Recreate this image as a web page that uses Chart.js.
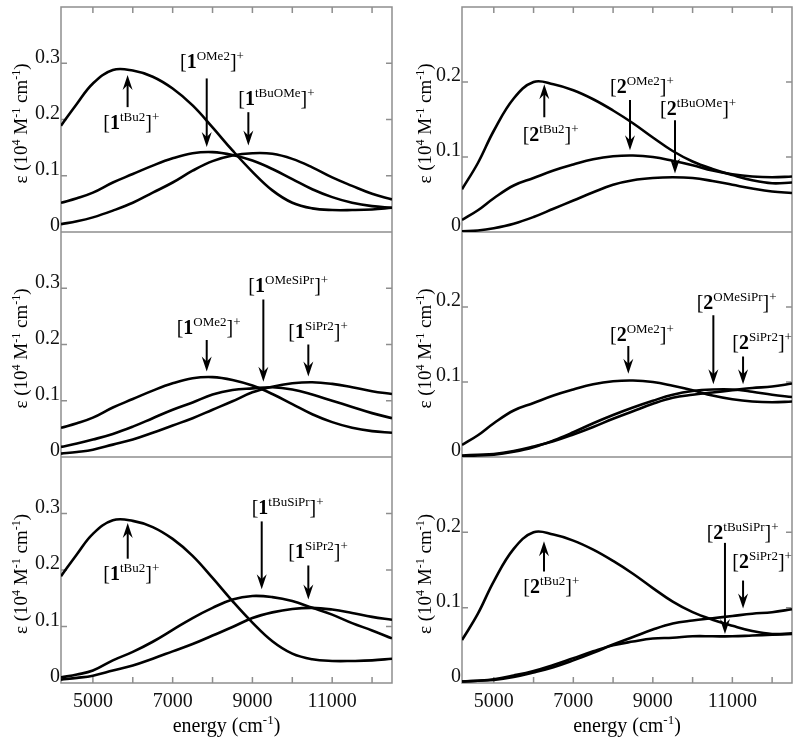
<!DOCTYPE html>
<html>
<head>
<meta charset="utf-8">
<script src="https://cdn.jsdelivr.net/npm/chart.js@4.4.0/dist/chart.umd.min.js"></script>
<style>
  html, body { margin: 0; padding: 0; background: #fff; }
  #wrap { position: relative; width: 800px; height: 749px; background: #fff; overflow: hidden; }
  #wrap canvas { position: absolute; }
</style>
</head>
<body>
<div id="wrap"></div>
<script>
// energy grid (cm-1)
const energy = [4200, 4600, 5000, 5500, 6000, 6500, 7000, 7500, 8000, 8500, 9000, 9500, 10000, 10500, 11000, 11500, 12000, 12500];

// complexes [1]+  (epsilon, 10^4 M-1 cm-1)
const tBu2_1    = [0.189, 0.228, 0.264, 0.288, 0.287, 0.276, 0.255, 0.225, 0.186, 0.145, 0.107, 0.074, 0.052, 0.042, 0.039, 0.039, 0.040, 0.043];
const OMe2_1    = [0.052, 0.060, 0.070, 0.088, 0.103, 0.118, 0.131, 0.140, 0.142, 0.137, 0.127, 0.112, 0.094, 0.076, 0.062, 0.052, 0.046, 0.043];
const tBuOMe_1  = [0.014, 0.019, 0.026, 0.038, 0.052, 0.070, 0.088, 0.109, 0.126, 0.136, 0.140, 0.139, 0.130, 0.115, 0.097, 0.082, 0.068, 0.058];
const OMeSiPr_1 = [0.018, 0.024, 0.031, 0.041, 0.054, 0.069, 0.084, 0.097, 0.111, 0.119, 0.122, 0.124, 0.120, 0.111, 0.100, 0.089, 0.078, 0.069];
const SiPr2_1   = [0.006, 0.009, 0.013, 0.022, 0.031, 0.043, 0.056, 0.069, 0.084, 0.099, 0.115, 0.125, 0.131, 0.133, 0.130, 0.124, 0.117, 0.112];
const tBuSiPr_1 = [0.010, 0.015, 0.022, 0.040, 0.055, 0.073, 0.094, 0.115, 0.133, 0.148, 0.154, 0.152, 0.145, 0.133, 0.121, 0.106, 0.093, 0.079];

// complexes [2]+
const tBu2_2    = [0.057, 0.092, 0.135, 0.178, 0.200, 0.197, 0.189, 0.177, 0.162, 0.145, 0.126, 0.108, 0.094, 0.084, 0.076, 0.069, 0.065, 0.066];
const OMe2_2    = [0.016, 0.029, 0.045, 0.062, 0.072, 0.082, 0.090, 0.097, 0.101, 0.102, 0.100, 0.095, 0.089, 0.082, 0.077, 0.074, 0.073, 0.074];
const tBuOMe_2  = [0.001, 0.002, 0.005, 0.011, 0.020, 0.031, 0.042, 0.053, 0.063, 0.069, 0.072, 0.073, 0.072, 0.068, 0.063, 0.058, 0.054, 0.052];
const OMeSiPr_2 = [0.001, 0.002, 0.003, 0.007, 0.013, 0.022, 0.033, 0.045, 0.056, 0.066, 0.075, 0.083, 0.088, 0.090, 0.090, 0.087, 0.083, 0.080];
const SiPr2_2   = [0.002, 0.003, 0.004, 0.008, 0.014, 0.021, 0.030, 0.040, 0.051, 0.061, 0.071, 0.079, 0.083, 0.086, 0.089, 0.092, 0.094, 0.098];
const tBuSiPr_2 = [0.002, 0.003, 0.005, 0.010, 0.016, 0.024, 0.033, 0.042, 0.050, 0.055, 0.059, 0.060, 0.062, 0.062, 0.062, 0.063, 0.064, 0.065];

// ticks
const xTickLabels = [5000, 7000, 9000, 11000];
const xTickMarks = [5000, 6000, 7000, 8000, 9000, 10000, 11000, 12000];
const yTicks1 = [0, 0.1, 0.2, 0.3];
const yTicks2 = [0, 0.1, 0.2];

// labels + arrows, in data units: label left/baseline, arrow x, arrow tail -> tip
const notesTL = [
  { sup: 'tBu2',   lx: 5262, ly: 0.183, ax: 5870,  from: 0.222, to: 0.279 },
  { sup: 'OMe2',   lx: 7184, ly: 0.291, ax: 7854,  from: 0.273, to: 0.151 },
  { sup: 'tBuOMe', lx: 8647, ly: 0.226, ax: 8898,  from: 0.213, to: 0.154 }
];
const notesML = [
  { sup: 'OMe2',    lx: 7101, ly: 0.219, ax: 7854,  from: 0.208, to: 0.152 },
  { sup: 'OMeSiPr', lx: 8898, ly: 0.294, ax: 9274,  from: 0.280, to: 0.134 },
  { sup: 'SiPr2',   lx: 9900, ly: 0.211, ax: 10402, from: 0.200, to: 0.143 }
];
const notesBL = [
  { sup: 'tBu2',    lx: 5262, ly: 0.183, ax: 5873,  from: 0.220, to: 0.283 },
  { sup: 'tBuSiPr', lx: 8982, ly: 0.299, ax: 9233,  from: 0.286, to: 0.166 },
  { sup: 'SiPr2',   lx: 9900, ly: 0.221, ax: 10402, from: 0.208, to: 0.148 }
];
const notesTR = [
  { sup: 'tBu2',   lx: 5726, ly: 0.122, ax: 6270, from: 0.153, to: 0.197 },
  { sup: 'OMe2',   lx: 7922, ly: 0.185, ax: 8425, from: 0.176, to: 0.109 },
  { sup: 'tBuOMe', lx: 9180, ly: 0.156, ax: 9557, from: 0.149, to: 0.078 }
];
const notesMR = [
  { sup: 'OMe2',    lx: 7922,  ly: 0.155, ax: 8383,  from: 0.148, to: 0.111 },
  { sup: 'OMeSiPr', lx: 10103, ly: 0.197, ax: 10522, from: 0.189, to: 0.097 },
  { sup: 'SiPr2',   lx: 11000, ly: 0.144, ax: 11269, from: 0.134, to: 0.097 }
];
const notesBR = [
  { sup: 'tBu2',    lx: 5743,  ly: 0.120, ax: 6262,  from: 0.148, to: 0.188 },
  { sup: 'tBuSiPr', lx: 10354, ly: 0.191, ax: 10814, from: 0.186, to: 0.065 },
  { sup: 'SiPr2',   lx: 11000, ly: 0.152, ax: 11269, from: 0.136, to: 0.099 }
];

const FAM = '"Liberation Serif", "Times New Roman", serif';
const F_MAIN = '20px ' + FAM;
const F_BOLD = 'bold 20px ' + FAM;
const F_SUP = '13px ' + FAM;
const F_TITLE = '19px ' + FAM;
const F_TSUP = '12px ' + FAM;

const cols = [
  { left: 0,   plotLeft: 61,  plotRight: 392, yMax: 0.4, yTicks: yTicks1, num: '1', titleX: 27 },
  { left: 400, plotLeft: 462, plotRight: 792, yMax: 0.3, yTicks: yTicks2, num: '2', titleX: 31 }
];
const rows = [
  { top: 0,   height: 232, padTop: 7, xAxis: false, topTicks: true },
  { top: 232, height: 225, padTop: 0, xAxis: false },
  { top: 457, height: 292, padTop: 0, xAxis: true, axisH: 66 }
];
const panels = [
  { col: 0, row: 0, series: [tBu2_1, OMe2_1, tBuOMe_1], notes: notesTL },
  { col: 0, row: 1, series: [OMe2_1, OMeSiPr_1, SiPr2_1], notes: notesML },
  { col: 0, row: 2, series: [tBu2_1, tBuSiPr_1, SiPr2_1], notes: notesBL },
  { col: 1, row: 0, series: [tBu2_2, OMe2_2, tBuOMe_2], notes: notesTR },
  { col: 1, row: 1, series: [OMe2_2, OMeSiPr_2, SiPr2_2], notes: notesMR },
  { col: 1, row: 2, series: [tBu2_2, tBuSiPr_2, SiPr2_2], notes: notesBR }
];

function runWidth(ctx, parts) {
  let w = 0;
  parts.forEach(p => { ctx.font = p.f; w += ctx.measureText(p.t).width; });
  return w;
}
function drawRun(ctx, parts, x, y) {
  let cx = x;
  parts.forEach(p => {
    ctx.font = p.f;
    ctx.fillText(p.t, cx, y + (p.dy || 0));
    cx += ctx.measureText(p.t).width;
  });
}

function drawArrow(ctx, x, y0, y1) {
  const d = Math.sign(y1 - y0);
  ctx.lineWidth = 2;
  ctx.beginPath();
  ctx.moveTo(x, y0);
  ctx.lineTo(x, y1 - d * 8);
  ctx.stroke();
  ctx.beginPath();
  ctx.moveTo(x, y1);
  ctx.lineTo(x - 5, y1 - d * 15);
  ctx.lineTo(x, y1 - d * 10);
  ctx.lineTo(x + 5, y1 - d * 15);
  ctx.closePath();
  ctx.fill();
}

function makeDecor(p, c, r) {
  return {
    id: 'decor',
    beforeDatasetsDraw(chart) {
      const { ctx, chartArea: a, scales: { x, y } } = chart;
      ctx.save();
      ctx.strokeStyle = '#8e8e8e';
      ctx.lineWidth = 1.5;
      ctx.strokeRect(a.left, a.top, a.right - a.left, a.bottom - a.top);
      ctx.beginPath();
      c.yTicks.forEach(v => {
        if (v <= 0) return;
        const py = y.getPixelForValue(v);
        ctx.moveTo(a.left, py); ctx.lineTo(a.left + 6, py);
        ctx.moveTo(a.right, py); ctx.lineTo(a.right - 6, py);
      });
      xTickMarks.forEach(v => {
        const px = x.getPixelForValue(v);
        if (r.topTicks) { ctx.moveTo(px, a.top); ctx.lineTo(px, a.top + 6); }
        if (r.xAxis) { ctx.moveTo(px, a.bottom); ctx.lineTo(px, a.bottom - 6); }
      });
      ctx.stroke();
      ctx.restore();
    },
    afterDatasetsDraw(chart) {
      const { ctx, chartArea: a, scales: { x, y } } = chart;
      ctx.save();
      ctx.fillStyle = '#000';
      ctx.strokeStyle = '#000';
      ctx.textAlign = 'left';
      ctx.textBaseline = 'alphabetic';

      // compound labels with arrows
      p.notes.forEach(n => {
        drawRun(ctx, [
          { t: '[', f: F_MAIN },
          { t: c.num, f: F_BOLD },
          { t: n.sup, f: F_SUP, dy: -8 },
          { t: ']', f: F_MAIN },
          { t: '+', f: F_SUP, dy: -8 }
        ], x.getPixelForValue(n.lx), y.getPixelForValue(n.ly));
        drawArrow(ctx, x.getPixelForValue(n.ax), y.getPixelForValue(n.from), y.getPixelForValue(n.to));
      });

      // y title, rotated
      const yt = [
        { t: 'ε (10', f: F_TITLE },
        { t: '4', f: F_TSUP, dy: -7 },
        { t: ' M', f: F_TITLE },
        { t: '-1', f: F_TSUP, dy: -7 },
        { t: ' cm', f: F_TITLE },
        { t: '-1', f: F_TSUP, dy: -7 },
        { t: ')', f: F_TITLE }
      ];
      const w = runWidth(ctx, yt);
      ctx.save();
      ctx.translate(c.titleX, (a.top + a.bottom) / 2 + 4);
      ctx.rotate(-Math.PI / 2);
      drawRun(ctx, yt, -w / 2, 0);
      ctx.restore();

      // x title
      if (r.xAxis) {
        const xt = [
          { t: 'energy (cm', f: F_MAIN },
          { t: '-1', f: F_SUP, dy: -8 },
          { t: ')', f: F_MAIN }
        ];
        const wx = runWidth(ctx, xt);
        drawRun(ctx, xt, (a.left + a.right) / 2 - wx / 2, 275);
      }
      ctx.restore();
    }
  };
}

const wrap = document.getElementById('wrap');

panels.forEach(p => {
  const c = cols[p.col];
  const r = rows[p.row];
  const cv = document.createElement('canvas');
  cv.width = 400;
  cv.height = r.height;
  cv.style.left = c.left + 'px';
  cv.style.top = r.top + 'px';
  wrap.appendChild(cv);

  new Chart(cv, {
    type: 'line',
    data: {
      datasets: p.series.map(s => ({
        data: energy.map((e, i) => ({ x: e, y: s[i] })),
        borderColor: '#000',
        borderWidth: 2.6,
        pointRadius: 0,
        fill: false,
        tension: 0.4,
        borderJoinStyle: 'round'
      }))
    },
    options: {
      responsive: false,
      devicePixelRatio: 1,
      animation: false,
      events: [],
      layout: {
        autoPadding: false,
        padding: { top: r.padTop, right: c.left + 400 - c.plotRight, bottom: 0, left: 0 }
      },
      plugins: {
        legend: { display: false },
        tooltip: { enabled: false }
      },
      scales: {
        x: {
          type: 'linear',
          min: 4200,
          max: 12500,
          display: r.xAxis,
          afterBuildTicks: s => { s.ticks = xTickLabels.map(v => ({ value: v })); },
          ticks: {
            font: { family: FAM, size: 20 },
            color: '#111',
            padding: 7,
            maxRotation: 0,
            autoSkip: false,
            callback: v => String(v)
          },
          grid: { display: false, drawTicks: false },
          border: { display: false },
          afterFit: s => {
            if (r.xAxis) s.height = r.axisH;
            s.paddingLeft = 0;
            s.paddingRight = 0;
          }
        },
        y: {
          min: 0,
          max: c.yMax,
          afterBuildTicks: s => { s.ticks = c.yTicks.map(v => ({ value: v })); },
          ticks: {
            font: { family: FAM, size: 20 },
            color: '#111',
            padding: 1,
            labelOffset: -6,
            callback: v => (v === 0 ? '0' : v.toFixed(1))
          },
          grid: { display: false, drawTicks: false },
          border: { display: false },
          afterFit: s => {
            s.width = c.plotLeft - c.left;
            s.paddingTop = 0;
            s.paddingBottom = 0;
          }
        }
      }
    },
    plugins: [makeDecor(p, c, r)]
  });
});
</script>
</body>
</html>
